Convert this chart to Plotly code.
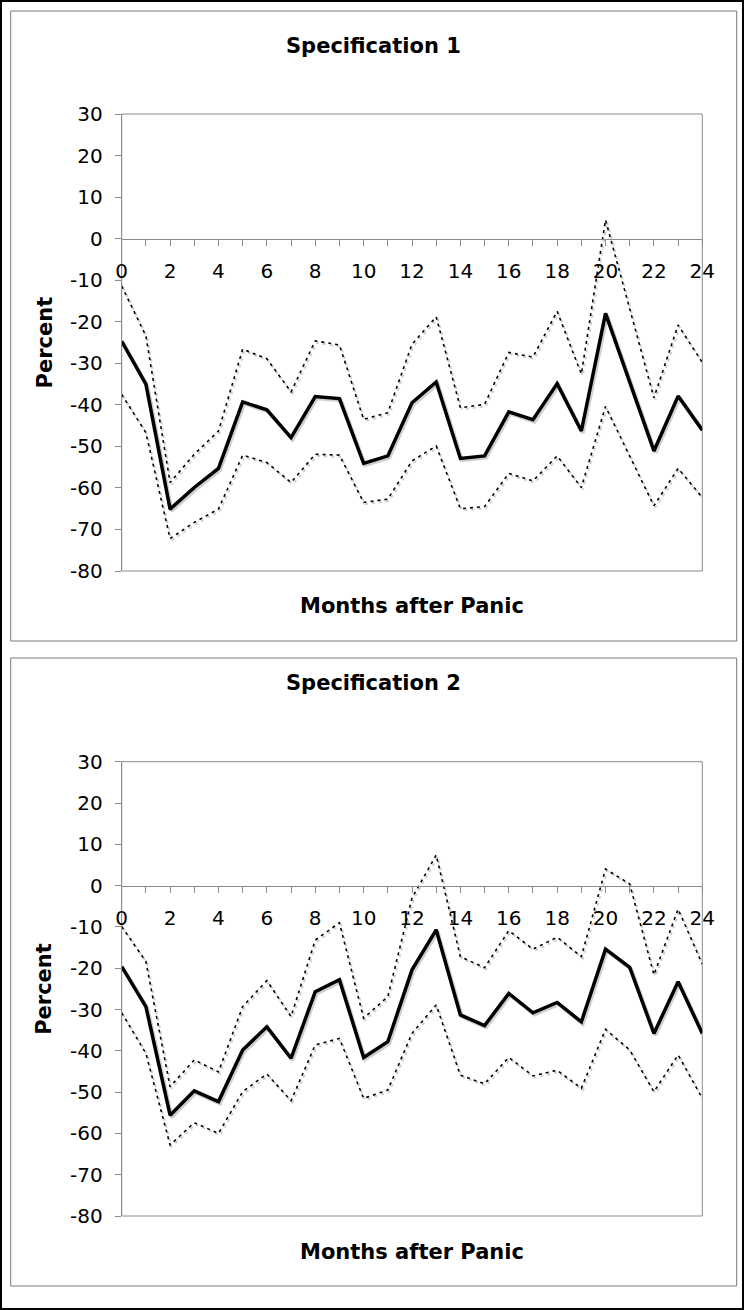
import plotly.graph_objects as go

months = list(range(25))
tick_vals = list(range(25))
tick_text = [str(m) if m % 2 == 0 else "" for m in months]
y_ticks = [30, 20, 10, 0, -10, -20, -30, -40, -50, -60, -70, -80]
y_tick_text = ["30", "20", "10", "0", "-10", "-20", "-30", "-40", "-50", "-60", "-70", "-80"]

# Specification 1
spec1_est = [-24.7, -35.0, -65.1, -59.9, -55.3, -39.3, -41.2, -47.9, -38.0, -38.5, -54.1, -52.3,
             -39.5, -34.5, -52.9, -52.3, -41.7, -43.6, -34.9, -46.3, -18.0, -34.4, -51.1, -37.9, -46.1]
spec1_up = [-11.4, -23.4, -58.7, -51.9, -46.3, -26.6, -28.9, -36.9, -24.6, -25.6, -43.5, -41.9,
            -25.4, -18.8, -40.7, -39.9, -27.4, -28.5, -17.5, -32.6, 4.5, -17.0, -38.3, -20.8, -29.8]
spec1_lo = [-37.5, -46.7, -72.2, -68.3, -65.1, -52.1, -53.9, -58.7, -51.9, -52.1, -63.5, -62.7,
            -53.5, -49.9, -65.0, -64.5, -56.5, -58.3, -52.3, -59.9, -40.4, -52.3, -64.3, -55.3, -62.3]

# Specification 2
spec2_est = [-19.6, -29.3, -55.6, -49.7, -52.3, -39.8, -34.2, -41.8, -25.7, -22.8, -41.6, -37.8,
             -20.4, -10.7, -31.3, -33.9, -26.1, -30.8, -28.3, -33.0, -15.4, -19.8, -35.8, -23.3, -35.8]
spec2_up = [-9.9, -18.4, -48.7, -42.2, -45.1, -29.3, -23.0, -31.7, -13.2, -9.0, -32.1, -26.9,
            -3.0, 7.4, -17.2, -19.9, -10.9, -15.4, -12.5, -17.2, 4.0, 0.4, -21.6, -5.7, -19.0]
spec2_lo = [-30.8, -40.6, -62.8, -57.4, -60.0, -49.9, -45.6, -52.1, -38.6, -37.0, -51.5, -49.5,
            -35.8, -28.9, -45.9, -48.0, -41.6, -46.1, -44.7, -49.1, -34.8, -39.8, -49.9, -41.0, -51.5]

titles = ["Specification 1", "Specification 2"]
x_title = "Months after Panic"
y_title = "Percent"

# body margin is removed by the post script, so the figure fills the page
W, H = 744, 1310
YMIN, YMAX = -80, 30
XMIN, XMAX = 0, 24

def px(x):
    return x / W

def py(y):
    return 1 - y / H

# pixel layout (page coordinates) of each panel
panels = [
    dict(left=121.7, right=702.3, top=114.0, bottom=571.0, box=(10.7, 11.0, 736.7, 641.0),
         title_y=46, xt_y=606, est=spec1_est, up=spec1_up, lo=spec1_lo),
    dict(left=121.7, right=702.3, top=761.7, bottom=1216.0, box=(10.7, 658.0, 736.7, 1286.0),
         title_y=683, xt_y=1252, est=spec2_est, up=spec2_up, lo=spec2_lo),
]

FONT = "DejaVu Sans"
AX_GRAY = "#8c8c8c"
SHADOW = "#cfcfcf"

fig = go.Figure()
layout = dict(width=W, height=H, margin=dict(l=0, r=0, t=0, b=0, pad=0), autosize=False,
              paper_bgcolor="white", plot_bgcolor="rgba(0,0,0,0)", showlegend=False,
              shapes=[], annotations=[])

def ax_name(kind, n):
    return kind + "axis" + ("" if n == 1 else str(n))

def ax_ref(kind, n):
    return kind + ("" if n == 1 else str(n))

# shadow subplots: 1,2 ; main subplots: 3,4
for i, p in enumerate(panels):
    sh, mn = i + 1, i + 3
    xd = [px(p["left"]), px(p["right"])]
    yd = [py(p["bottom"]), py(p["top"])]
    ppu_x = (p["right"] - p["left"]) / (XMAX - XMIN)
    ppu_y = (p["bottom"] - p["top"]) / (YMAX - YMIN)
    zero_pos = py(p["top"] + (YMAX - 0) * ppu_y)

    dx = 1.5 / ppu_x
    dy = 1.8 / ppu_y
    layout[ax_name("x", sh)] = dict(domain=xd, range=[XMIN - dx, XMAX - dx], anchor=ax_ref("y", sh),
                                    visible=False, fixedrange=True, automargin=False)
    layout[ax_name("y", sh)] = dict(domain=yd, range=[YMIN + dy, YMAX + dy], anchor=ax_ref("x", sh),
                                    visible=False, fixedrange=True, automargin=False)
    layout[ax_name("x", mn)] = dict(domain=xd, range=[XMIN, XMAX], anchor="free", position=zero_pos,
                                    tickvals=tick_vals, ticktext=tick_text, ticks="outside", ticklen=6,
                                    tickcolor=AX_GRAY, showline=True, linecolor=AX_GRAY, linewidth=1,
                                    showgrid=False, zeroline=False, ticklabelstandoff=8,
                                    tickfont=dict(family=FONT, size=20, color="black"), fixedrange=True,
                                    automargin=False)
    layout[ax_name("y", mn)] = dict(domain=yd, range=[YMIN, YMAX], anchor=ax_ref("x", mn),
                                    tickvals=y_ticks, ticktext=y_tick_text, ticks="outside", ticklen=6,
                                    tickcolor=AX_GRAY, showline=True, linecolor=AX_GRAY, linewidth=1,
                                    showgrid=False, zeroline=False, ticklabelstandoff=8,
                                    tickfont=dict(family=FONT, size=20, color="black"), fixedrange=True,
                                    automargin=False)

    styles = [(p["up"], 1.6, "3px,4px"), (p["lo"], 1.6, "3px,4px"), (p["est"], 3.5, "solid")]
    for series, w, dash in styles:
        fig.add_trace(go.Scatter(x=months, y=series, mode="lines",
                                 xaxis=ax_ref("x", sh), yaxis=ax_ref("y", sh),
                                 line=dict(color=SHADOW, width=w + 0.4, dash=dash), hoverinfo="skip"))
    for series, w, dash in styles:
        fig.add_trace(go.Scatter(x=months, y=series, mode="lines",
                                 xaxis=ax_ref("x", mn), yaxis=ax_ref("y", mn),
                                 line=dict(color="black", width=w, dash=dash)))

    layout["shapes"].append(dict(type="rect", xref="paper", yref="paper", x0=xd[0], x1=xd[1],
                                 y0=yd[0], y1=yd[1], line=dict(color=AX_GRAY, width=1), layer="below"))
    b = p["box"]
    layout["shapes"].append(dict(type="rect", xref="paper", yref="paper", x0=px(b[0]), x1=px(b[2]),
                                 y0=py(b[3]), y1=py(b[1]), line=dict(color="#7a7a7a", width=1),
                                 layer="below"))
    layout["annotations"].append(dict(text=f"<b>{titles[i]}</b>", xref="paper", yref="paper",
                                      x=px((b[0] + b[2]) / 2), y=py(p["title_y"]), showarrow=False,
                                      xanchor="center", yanchor="middle",
                                      font=dict(family=FONT, size=21, color="black")))
    layout["annotations"].append(dict(text=f"<b>{x_title}</b>", xref="paper", yref="paper",
                                      x=px((p["left"] + p["right"]) / 2), y=py(p["xt_y"]),
                                      showarrow=False, xanchor="center", yanchor="middle",
                                      font=dict(family=FONT, size=21, color="black")))
    layout["annotations"].append(dict(text=f"<b>{y_title}</b>", xref="paper", yref="paper",
                                      x=px(44), y=py((p["top"] + p["bottom"]) / 2), textangle=-90,
                                      showarrow=False, xanchor="center", yanchor="middle",
                                      font=dict(family=FONT, size=21, color="black")))

# outer black frame around the whole picture
layout["shapes"].append(dict(type="rect", xref="paper", yref="paper", x0=0, x1=1, y0=0, y1=1,
                             line=dict(color="black", width=4), layer="below"))

fig.update_layout(**layout)
fig.write_html("out.html", config={"displayModeBar": False, "responsive": False},
               post_script="document.body.style.margin='0';document.body.style.overflow='hidden';")
